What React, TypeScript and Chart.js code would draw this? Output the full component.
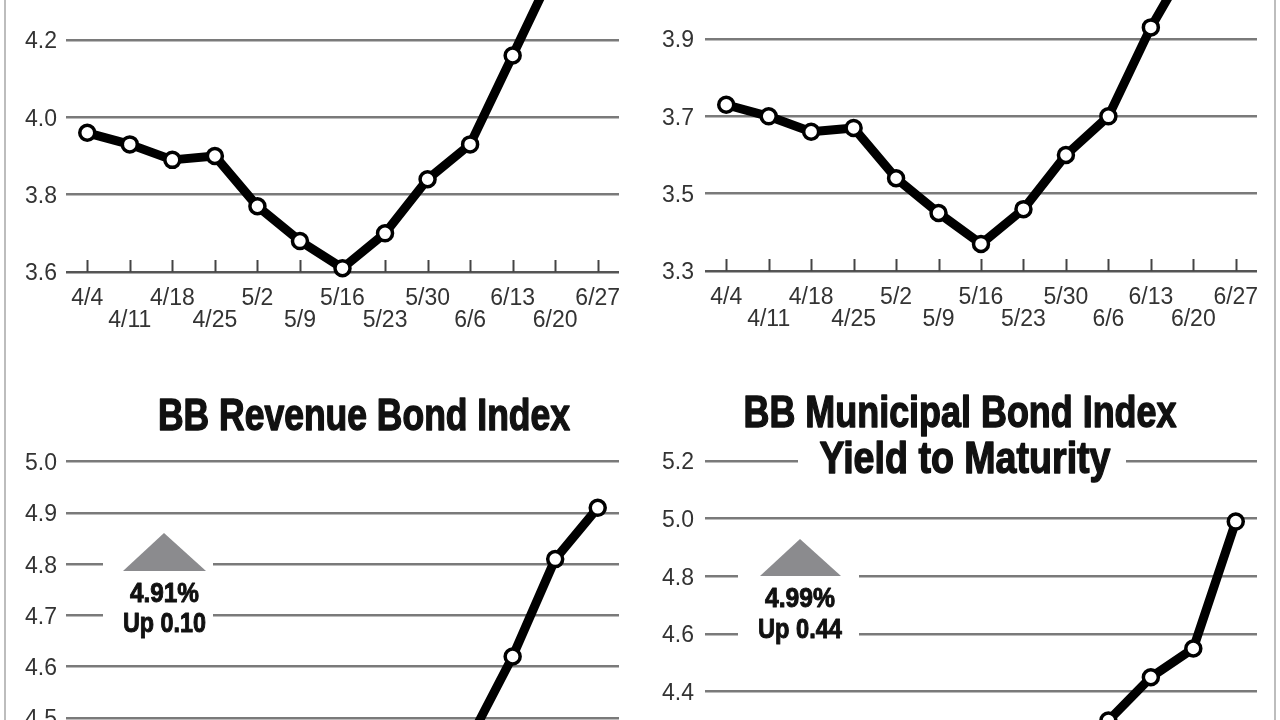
import React, { useEffect, useRef } from "react";
import { Chart, registerables } from "chart.js";

Chart.register(...registerables);

// ---------- data ----------
const dates = ["4/4", "4/11", "4/18", "4/25", "5/2", "5/9", "5/16", "5/23", "5/30", "6/6", "6/13", "6/20", "6/27"];
const goBond20Yields = [3.96, 3.93, 3.89, 3.9, 3.77, 3.68, 3.61, 3.7, 3.84, 3.93, 4.16, 4.39, 4.72];
const goBond11Yields = [3.73, 3.7, 3.66, 3.67, 3.54, 3.45, 3.37, 3.46, 3.6, 3.7, 3.93, 4.12, 4.46];
const revenueYields = [4.42, 4.4, 4.37, 4.38, 4.28, 4.2, 4.14, 4.21, 4.32, 4.46, 4.62, 4.81, 4.91];
const municipalYields = [4.16, 4.13, 4.09, 4.1, 3.99, 3.91, 3.85, 3.93, 4.08, 4.3, 4.45, 4.55, 4.99];

const revenueTitle = "BB Revenue Bond Index";
const municipalTitle1 = "BB Municipal Bond Index";
const municipalTitle2 = "Yield to Maturity";
const revenueNote = ["4.91%", "Up 0.10"];
const municipalNote = ["4.99%", "Up 0.44"];

// ---------- styling / layout ----------
const TITLE_FONT = 'bold 44px "Liberation Sans Narrow", "Liberation Sans", sans-serif';
const NOTE_FONT = 'bold 28px "Liberation Sans Narrow", "Liberation Sans", sans-serif';
const TEXT_COLOR = "#111";
const X_AXIS_H = 80;

type Decor = {
  tickMarks?: boolean;
  gaps?: { value: number; x1: number; x2: number }[];
  triangle?: { ax: number; ay: number; bx1: number; bx2: number; by: number };
  texts?: { text: string; x: number; y: number; maxWidth: number; font: string; stroke: number }[];
};

type Panel = {
  values: number[];
  left: number;
  chartTopPage: number; // page y of yMax
  canvasTop: number;
  width: number;
  yMin: number;
  yMax: number;
  step: number;
  ppu: number;
  anchor: "bottom" | "top";
  yAxisW: number;
  padRight: number;
  labelPad: number;
  decor: Decor;
};

const PPU_TOP = 386.7;
const panels: Panel[] = [
  {
    values: goBond20Yields,
    left: 0,
    chartTopPage: 271.7 - (4.8 - 3.6) * PPU_TOP,
    canvasTop: 271.7 - (4.8 - 3.6) * PPU_TOP,
    width: 640,
    yMin: 3.6,
    yMax: 4.8,
    step: 0.2,
    ppu: PPU_TOP,
    anchor: "bottom",
    yAxisW: 66,
    padRight: 21,
    labelPad: 9,
    decor: { tickMarks: true },
  },
  {
    values: goBond11Yields,
    left: 640,
    chartTopPage: 271.2 - (4.5 - 3.3) * PPU_TOP,
    canvasTop: 271.2 - (4.5 - 3.3) * PPU_TOP,
    width: 640,
    yMin: 3.3,
    yMax: 4.5,
    step: 0.2,
    ppu: PPU_TOP,
    anchor: "bottom",
    yAxisW: 65,
    padRight: 23,
    labelPad: 11,
    decor: { tickMarks: true },
  },
  {
    values: revenueYields,
    left: 0,
    chartTopPage: 461.7,
    canvasTop: 360,
    width: 640,
    yMin: 4.0,
    yMax: 5.0,
    step: 0.1,
    ppu: 512.6,
    anchor: "top",
    yAxisW: 66,
    padRight: 21,
    labelPad: 9,
    decor: {
      gaps: [
        { value: 4.8, x1: 103, x2: 213 },
        { value: 4.7, x1: 103, x2: 213 },
      ],
      triangle: { ax: 164, ay: 173, bx1: 123, bx2: 206, by: 211 },
      texts: [
        { text: revenueTitle, x: 364, y: 70, maxWidth: 412, font: TITLE_FONT, stroke: 1.4 },
        { text: revenueNote[0], x: 164.5, y: 242, maxWidth: 69, font: NOTE_FONT, stroke: 1 },
        { text: revenueNote[1], x: 164.5, y: 272, maxWidth: 83, font: NOTE_FONT, stroke: 1 },
      ],
    },
  },
  {
    values: municipalYields,
    left: 640,
    chartTopPage: 461,
    canvasTop: 360,
    width: 640,
    yMin: 3.6,
    yMax: 5.2,
    step: 0.2,
    ppu: 288.4,
    anchor: "top",
    yAxisW: 65,
    padRight: 23,
    labelPad: 11,
    decor: {
      gaps: [
        { value: 5.2, x1: 158, x2: 486 },
        { value: 4.8, x1: 98, x2: 219 },
        { value: 4.6, x1: 98, x2: 219 },
      ],
      triangle: { ax: 160, ay: 179, bx1: 120, bx2: 201, by: 216 },
      texts: [
        { text: municipalTitle1, x: 320, y: 67, maxWidth: 433, font: TITLE_FONT, stroke: 1.4 },
        { text: municipalTitle2, x: 325, y: 113, maxWidth: 291, font: TITLE_FONT, stroke: 1.4 },
        { text: municipalNote[0], x: 160, y: 247, maxWidth: 70, font: NOTE_FONT, stroke: 1 },
        { text: municipalNote[1], x: 160, y: 278, maxWidth: 84, font: NOTE_FONT, stroke: 1 },
      ],
    },
  },
];

function makeDecorPlugin(p: Panel) {
  const decor = p.decor;
  return {
    id: "decor",
    afterLayout(chart: any) {
      // keep a fixed pixels-per-unit scale, anchored on the axis line (top panels) or the top gridline (bottom panels)
      const ys = chart.scales.y;
      const area = chart.chartArea;
      const h = area.bottom - area.top;
      if (p.anchor === "bottom") {
        ys.min = p.yMin;
        ys.max = p.yMin + h / p.ppu;
      } else {
        ys.max = p.yMax;
        ys.min = p.yMax - h / p.ppu;
      }
      ys.configure();
    },
    beforeDatasetsDraw(chart: any) {
      const ctx: CanvasRenderingContext2D = chart.ctx;
      const area = chart.chartArea;
      const xs = chart.scales.x;
      const ys = chart.scales.y;
      ctx.save();
      if (decor.tickMarks) {
        ctx.strokeStyle = "#444";
        ctx.lineWidth = 2;
        const n = chart.data.labels.length;
        for (let i = 0; i < n; i++) {
          const px = Math.round(xs.getPixelForValue(i)) + 0.5;
          ctx.beginPath();
          ctx.moveTo(px, area.bottom - 12);
          ctx.lineTo(px, area.bottom);
          ctx.stroke();
        }
      }
      (decor.gaps || []).forEach((g) => {
        const py = ys.getPixelForValue(g.value);
        ctx.fillStyle = "#fff";
        ctx.fillRect(g.x1, py - 4, g.x2 - g.x1, 8);
      });
      if (decor.triangle) {
        const t = decor.triangle;
        ctx.fillStyle = "#8b8b8e";
        ctx.beginPath();
        ctx.moveTo(t.ax, t.ay);
        ctx.lineTo(t.bx2, t.by);
        ctx.lineTo(t.bx1, t.by);
        ctx.closePath();
        ctx.fill();
      }
      (decor.texts || []).forEach((t) => {
        ctx.font = t.font;
        ctx.fillStyle = TEXT_COLOR;
        ctx.strokeStyle = TEXT_COLOR;
        ctx.lineWidth = t.stroke;
        ctx.lineJoin = "round";
        ctx.textAlign = "center";
        ctx.textBaseline = "alphabetic";
        ctx.fillText(t.text, t.x, t.y, t.maxWidth);
        ctx.strokeText(t.text, t.x, t.y, t.maxWidth);
      });
      ctx.restore();
    },
  };
}

function PanelChart({ p }: { p: Panel }) {
  const ref = useRef<HTMLCanvasElement | null>(null);
  const padTop = p.chartTopPage - p.canvasTop;
  const chartH = (p.yMax - p.yMin) * p.ppu;
  const height = padTop + chartH + X_AXIS_H;

  useEffect(() => {
    if (!ref.current) return;
    const chart = new Chart(ref.current, {
      type: "line",
      data: {
        labels: dates,
        datasets: [
          {
            data: p.values,
            borderColor: "#000",
            borderWidth: 9,
            borderJoinStyle: "round",
            borderCapStyle: "round",
            tension: 0,
            pointRadius: 7.5,
            pointBorderWidth: 3.5,
            pointBackgroundColor: "#fff",
            pointBorderColor: "#000",
            clip: false as any,
          },
        ],
      },
      options: {
        animation: false,
        responsive: false,
        devicePixelRatio: 1,
        layout: { padding: { top: padTop, bottom: 0, left: 0, right: p.padRight } },
        plugins: { legend: { display: false }, tooltip: { enabled: false }, title: { display: false } },
        scales: {
          x: {
            type: "category",
            offset: true,
            grid: { display: false, drawTicks: false },
            border: { display: false },
            ticks: {
              autoSkip: false,
              maxRotation: 0,
              minRotation: 0,
              padding: 16,
              color: "#333",
              font: { family: "Liberation Sans", size: 23, lineHeight: "22px" } as any,
              callback: (_v: any, i: number) => (i % 2 === 0 ? [dates[i]] : ["", dates[i]]),
            },
            afterFit: (s: any) => {
              s.height = X_AXIS_H;
              s.paddingLeft = 0;
              s.paddingRight = 0;
            },
          },
          y: {
            min: p.yMin,
            max: p.yMax,
            border: { display: false },
            grid: {
              drawTicks: false,
              lineWidth: 2.5,
              color: (c: any) => (c.tick && Math.abs(c.tick.value - p.yMin) < 1e-6 ? "#555" : "#7a7a7a"),
            },
            ticks: {
              stepSize: p.step,
              padding: p.labelPad,
              labelOffset: 2,
              color: "#333",
              font: { family: "Liberation Sans", size: 23 },
              callback: (v: any) => Number(v).toFixed(1),
            },
            afterFit: (s: any) => {
              s.width = p.yAxisW;
              s.paddingTop = 0;
              s.paddingBottom = 0;
            },
          },
        },
      },
      plugins: [makeDecorPlugin(p)],
    });
    return () => chart.destroy();
  }, []);

  return (
    <canvas
      ref={ref}
      width={p.width}
      height={Math.round(height)}
      style={{
        position: "absolute",
        left: p.left,
        top: p.canvasTop,
        width: p.width,
        height: Math.round(height),
        display: "block",
      }}
    />
  );
}

export default function App() {
  return (
    <div
      style={{
        position: "fixed",
        left: 0,
        top: 0,
        width: 1280,
        height: 720,
        overflow: "hidden",
        background: "#fff",
      }}
    >
      {panels.map((p, i) => (
        <PanelChart key={i} p={p} />
      ))}
      <div style={{ position: "absolute", left: 4, top: 0, width: 2, height: 720, background: "#bdbdbd" }} />
      <div style={{ position: "absolute", left: 1274, top: 0, width: 2, height: 720, background: "#bdbdbd" }} />
    </div>
  );
}
